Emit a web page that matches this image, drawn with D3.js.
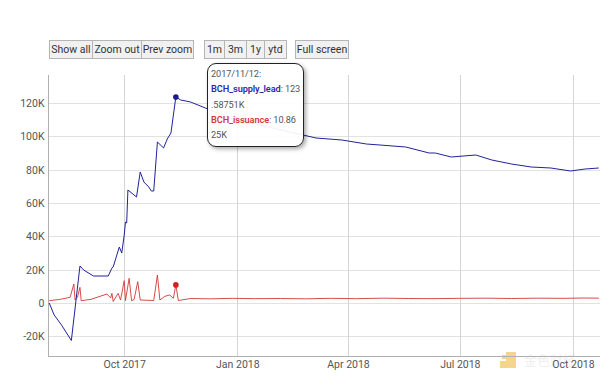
<!DOCTYPE html>
<html>
<head>
<meta charset="utf-8">
<script src="https://cdn.jsdelivr.net/npm/d3@7"></script>
<style>
  body { margin: 0; background: #fff; font-family: Roboto, "Noto Sans", sans-serif; }
  #chart { position: relative; width: 600px; height: 376px; overflow: hidden; }
  .btn {
    position: absolute; top: 40px; height: 19px; box-sizing: border-box;
    border: 1px solid #b5b5b5; background: #f1f1f1; color: #333;
    font-size: 10.5px; line-height: 17px; text-align: center;
    white-space: nowrap; padding: 0; overflow: hidden;
  }
  .tip {
    position: absolute; left: 207px; top: 63px; width: 97px; height: 84px;
    box-sizing: border-box; border: 1.5px solid #222; border-radius: 9px;
    background: rgba(255,255,255,0.93); box-shadow: 2px 2px 4px rgba(0,0,0,0.35);
    font-size: 9.2px; line-height: 15.3px; color: #555; padding: 2px 0 0 3px;
    white-space: nowrap; overflow: hidden; letter-spacing: -0.1px;
  }
  .tip b { font-weight: 600; }
</style>
</head>
<body>
<div id="chart"></div>
<script>
// BCH supply lead (value in units, date)
const supplyDates = ['2017-08-01','2017-08-05','2017-08-11','2017-08-19','2017-08-26','2017-08-29','2017-09-06',
  '2017-09-18','2017-09-21','2017-09-22','2017-09-27','2017-09-29','2017-10-01','2017-10-02','2017-10-03',
  '2017-10-04','2017-10-11','2017-10-14','2017-10-17','2017-10-21','2017-10-23','2017-10-25','2017-10-28',
  '2017-11-02','2017-11-05','2017-11-08','2017-11-12','2017-11-16','2017-11-24','2017-12-06','2017-12-26',
  '2018-01-19','2018-02-20','2018-03-06','2018-03-27','2018-04-16','2018-04-27','2018-05-18','2018-06-06',
  '2018-06-11','2018-06-24','2018-07-14','2018-07-27','2018-08-12','2018-08-28','2018-09-13','2018-09-29',
  '2018-10-11','2018-10-22'];
const supplyValues = [0, -7200, -13200, -22500, 22200, 19800, 16200,
  16200, 21000, 21600, 33600, 30000, 40800, 48600, 48000,
  67800, 63600, 78600, 72600, 69600, 67200, 67200, 96600,
  93000, 98400, 102000, 123587.51, 121800, 120600, 117000, 111000,
  106800, 101400, 99000, 97800, 95400, 94800, 93600, 90000,
  90000, 87600, 88800, 85800, 83400, 81600, 81000, 79200,
  80400, 81000];

// BCH issuance
const issuanceDates = ['2017-08-01','2017-08-10','2017-08-18','2017-08-21','2017-08-22','2017-08-24','2017-08-26',
  '2017-08-27','2017-09-04','2017-09-17','2017-09-20','2017-09-21','2017-09-22','2017-09-26','2017-09-28',
  '2017-10-01','2017-10-02','2017-10-05','2017-10-07','2017-10-09','2017-10-12','2017-10-14','2017-10-25',
  '2017-10-28','2017-10-30','2017-11-03','2017-11-07','2017-11-10','2017-11-12','2017-11-14','2017-11-24',
  '2017-12-10','2017-12-28','2018-01-15','2018-02-05','2018-02-25','2018-03-18','2018-04-08','2018-04-30',
  '2018-05-20','2018-06-10','2018-07-01','2018-07-22','2018-08-12','2018-09-02','2018-09-23','2018-10-10',
  '2018-10-22'];
const issuanceValues = [1400, 2200, 3400, 11400, 1800, 3600, 9400,
  1400, 2200, 5400, 3000, 5800, 900, 5800, 1800,
  13400, 1400, 14800, 1400, 2000, 12800, 1800, 1500,
  16800, 1800, 4000, 4800, 2800, 10862.5, 1500, 2700,
  2500, 2800, 2600, 2700, 2500, 2800, 2600, 2900,
  2700, 2600, 2800, 2900, 2700, 2900, 2800, 3000,
  2900];

const yTicks = [-20000, 0, 20000, 40000, 60000, 80000, 100000, 120000];
const xTicks = ['2017-10-01', '2018-01-01', '2018-04-01', '2018-07-01', '2018-10-01'];
const buttons = [['Show all', 49, 44], ['Zoom out', 92, 50], ['Prev zoom', 141, 53],
  ['1m', 204, 21], ['3m', 224, 23], ['1y', 246, 19], ['ytd', 264, 23], ['Full screen', 295, 54]];

const W = 600, H = 376;
const M = { top: 75, right: 0, bottom: 20, left: 48 };
const parse = d3.timeParse('%Y-%m-%d');
const supply = supplyDates.map((d, i) => ({ date: parse(d), value: supplyValues[i] }));
const issuance = issuanceDates.map((d, i) => ({ date: parse(d), value: issuanceValues[i] }));

const chart = d3.select('#chart');
const svg = chart.append('svg').attr('width', W).attr('height', H);

const x = d3.scaleTime()
  .domain([parse('2017-07-31'), parse('2018-10-23')])
  .range([M.left, W - M.right]);
const y = d3.scaleLinear()
  .domain([-31800, 136800])
  .range([H - M.bottom, M.top]);

// watermark (sits behind the axis labels)
const wm = svg.append('g').attr('opacity', 0.45);
wm.append('path').attr('d', 'M506,352h10v16h-16v-7h6z').attr('fill', '#e8a400');
wm.append('rect').attr('x', 502).attr('y', 355).attr('width', 4).attr('height', 4).attr('fill', '#e8a400');
wm.append('text').attr('x', 524).attr('y', 365).attr('fill', '#ddd')
  .style('font-size', '13px').style('font-family', '"Noto Sans CJK SC", sans-serif').text('金色财经');

// grid
const grid = svg.append('g');
grid.selectAll('.hg').data(yTicks).join('line')
  .attr('x1', M.left).attr('x2', W)
  .attr('y1', d => Math.round(y(d)) + 0.5).attr('y2', d => Math.round(y(d)) + 0.5)
  .attr('stroke', '#e2e2e2');
grid.selectAll('.vg').data(xTicks.map(parse)).join('line')
  .attr('x1', d => Math.round(x(d)) + 0.5).attr('x2', d => Math.round(x(d)) + 0.5)
  .attr('y1', M.top).attr('y2', H - M.bottom)
  .attr('stroke', '#d4d4d4');

// axes
const yAxis = svg.append('g').attr('transform', `translate(${M.left + 0.5},0)`)
  .call(d3.axisLeft(y).tickValues(yTicks).tickSize(0).tickPadding(4)
    .tickFormat(d => d === 0 ? '0' : (d / 1000) + 'K'));
const xAxis = svg.append('g').attr('transform', `translate(0,${H - M.bottom + 0.5})`)
  .call(d3.axisBottom(x).tickValues(xTicks.map(parse)).tickSize(0).tickPadding(4)
    .tickFormat(d3.timeFormat('%b %Y')));
[xAxis, yAxis].forEach(a => {
  a.select('.domain').attr('stroke', '#b0b0b0');
  a.selectAll('text').attr('fill', '#555').style('font-size', '10.5px').style('font-family', 'Roboto, sans-serif');
});
yAxis.select('.domain').attr('d', `M0,${M.top}V${H - M.bottom}`);
xAxis.select('.domain').attr('d', `M${M.left},0H${W}`);

// lines
const line = d3.line().x(d => x(d.date)).y(d => y(d.value));
svg.append('path').datum(issuance).attr('d', line)
  .attr('fill', 'none').attr('stroke', '#d23a3a').attr('stroke-width', 1).attr('opacity', 0.9);
svg.append('path').datum(supply).attr('d', line)
  .attr('fill', 'none').attr('stroke', '#22229a').attr('stroke-width', 1);

// highlight points
const hi = parse('2017-11-12');
svg.append('circle').attr('cx', x(hi)).attr('cy', y(123587.51)).attr('r', 2.8).attr('fill', '#1a1a90');
svg.append('circle').attr('cx', x(hi)).attr('cy', y(10862.5)).attr('r', 2.8).attr('fill', '#d02020');

// buttons
buttons.forEach(([label, left, w]) => {
  chart.append('div').attr('class', 'btn')
    .style('left', left + 'px').style('width', w + 'px').text(label);
});

// tooltip
chart.append('div').attr('class', 'tip').html(
  '2017/11/12:<br>' +
  '<b style="color:#2b2ba8">BCH_supply_lead</b>: 123<br>.58751K<br>' +
  '<b style="color:#d43a3a">BCH_issuance</b>: 10.86<br>25K');
</script>
</body>
</html>
